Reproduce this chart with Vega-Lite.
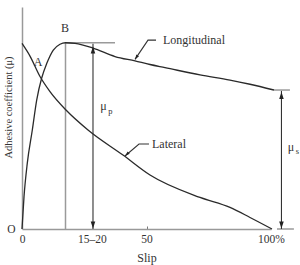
{
  "$schema": "https://vega.github.io/schema/vega-lite/v6.json",
  "width": 249,
  "height": 222,
  "autosize": {"type": "none"},
  "padding": {"left": 22, "top": 7, "right": 29, "bottom": 36},
  "config": {"view": {"stroke": null}, "font": "Liberation Serif"},
  "datasets": {
    "curves": [
      {"curve": "Longitudinal", "s": 0, "mu": 0},
      {"curve": "Longitudinal", "s": 0.8, "mu": 0.144},
      {"curve": "Longitudinal", "s": 2.13, "mu": 0.297},
      {"curve": "Longitudinal", "s": 4.14, "mu": 0.446},
      {"curve": "Longitudinal", "s": 5.9, "mu": 0.581},
      {"curve": "Longitudinal", "s": 7.91, "mu": 0.68},
      {"curve": "Longitudinal", "s": 9.92, "mu": 0.745},
      {"curve": "Longitudinal", "s": 12.57, "mu": 0.806},
      {"curve": "Longitudinal", "s": 15.26, "mu": 0.832},
      {"curve": "Longitudinal", "s": 17.47, "mu": 0.839},
      {"curve": "Longitudinal", "s": 21.29, "mu": 0.836},
      {"curve": "Longitudinal", "s": 28.51, "mu": 0.815},
      {"curve": "Longitudinal", "s": 37.35, "mu": 0.777},
      {"curve": "Longitudinal", "s": 45.38, "mu": 0.757},
      {"curve": "Longitudinal", "s": 51.41, "mu": 0.741},
      {"curve": "Longitudinal", "s": 57.43, "mu": 0.727},
      {"curve": "Longitudinal", "s": 71.49, "mu": 0.694},
      {"curve": "Longitudinal", "s": 83.53, "mu": 0.671},
      {"curve": "Longitudinal", "s": 91.57, "mu": 0.652},
      {"curve": "Longitudinal", "s": 101.2, "mu": 0.626},
      {"curve": "Lateral", "s": 0, "mu": 0.836},
      {"curve": "Lateral", "s": 3.21, "mu": 0.779},
      {"curve": "Lateral", "s": 7.23, "mu": 0.687},
      {"curve": "Lateral", "s": 11.24, "mu": 0.619},
      {"curve": "Lateral", "s": 17.67, "mu": 0.536},
      {"curve": "Lateral", "s": 26.51, "mu": 0.446},
      {"curve": "Lateral", "s": 40.56, "mu": 0.333},
      {"curve": "Lateral", "s": 51.41, "mu": 0.243},
      {"curve": "Lateral", "s": 71.49, "mu": 0.142},
      {"curve": "Lateral", "s": 83.53, "mu": 0.097},
      {"curve": "Lateral", "s": 91.57, "mu": 0.052},
      {"curve": "Lateral", "s": 100.4, "mu": 0}
    ],
    "grayLines": [
      {"seg": "peakV", "k": 0, "s": 17.47, "mu": 0},
      {"seg": "peakV", "k": 1, "s": 17.47, "mu": 0.839},
      {"seg": "peakH", "k": 0, "s": 17.47, "mu": 0.839},
      {"seg": "peakH", "k": 1, "s": 37.35, "mu": 0.839},
      {"seg": "capTop", "k": 0, "s": 101.2, "mu": 0.626},
      {"seg": "capTop", "k": 1, "s": 107.6, "mu": 0.626},
      {"seg": "capBot", "k": 0, "s": 102.4, "mu": 0},
      {"seg": "capBot", "k": 1, "s": 109.2, "mu": 0}
    ],
    "darkLines": [
      {"seg": "mup", "k": 0, "s": 28.51, "mu": 0},
      {"seg": "mup", "k": 1, "s": 28.51, "mu": 0.835},
      {"seg": "mus", "k": 0, "s": 104.2, "mu": 0},
      {"seg": "mus", "k": 1, "s": 104.2, "mu": 0.622},
      {"seg": "leadL", "k": 0, "s": 53.82, "mu": 0.851},
      {"seg": "leadL", "k": 1, "s": 50.6, "mu": 0.851},
      {"seg": "leadL", "k": 2, "s": 45.38, "mu": 0.764},
      {"seg": "leadT", "k": 0, "s": 51.0, "mu": 0.383},
      {"seg": "leadT", "k": 1, "s": 46.99, "mu": 0.383},
      {"seg": "leadT", "k": 2, "s": 41.37, "mu": 0.329}
    ],
    "heads": [
      {"dir": "up", "s": 28.51, "mu": 0.822},
      {"dir": "down", "s": 28.51, "mu": 0.002},
      {"dir": "up", "s": 104.2, "mu": 0.617},
      {"dir": "down", "s": 104.2, "mu": 0.002},
      {"dir": "leadL", "s": 45.38, "mu": 0.764},
      {"dir": "leadT", "s": 41.37, "mu": 0.329}
    ],
    "labels": [
      {"t": "B", "s": 17.27, "mu": 0.905},
      {"t": "A", "s": 6.43, "mu": 0.752},
      {"t": "Longitudinal", "s": 69.08, "mu": 0.851},
      {"t": "Lateral", "s": 59.04, "mu": 0.383},
      {"t": "μ", "s": 32.73, "mu": 0.554},
      {"t": "μ", "s": 108.03, "mu": 0.369}
    ],
    "subs": [
      {"t": "p", "s": 35.54, "mu": 0.532},
      {"t": "s", "s": 110.64, "mu": 0.351}
    ]
  },
  "encoding": {
    "x": {
      "field": "s",
      "type": "quantitative",
      "scale": {"domain": [0, 100], "nice": false, "zero": false},
      "axis": {
        "title": "Slip",
        "values": [0, 28.1, 50, 100],
        "labelExpr": "datum.value == 0 ? '0' : datum.value == 50 ? '50' : datum.value == 100 ? '100%' : '15–20'",
        "grid": false,
        "domainColor": "#999999",
        "domainWidth": 1.5,
        "tickColor": "#777777",
        "tickSize": -3,
        "tickOpacity": {"condition": {"test": "datum.value == 50", "value": 1}, "value": 0},
        "labelFontSize": 11.5,
        "labelColor": "#333333",
        "labelPadding": 7,
        "labelFlush": false,
        "labelOverlap": false,
        "titleFontSize": 12,
        "titleFontWeight": "normal",
        "titleColor": "#333333",
        "titlePadding": 8
      }
    },
    "y": {
      "field": "mu",
      "type": "quantitative",
      "scale": {"domain": [0, 1], "nice": false, "zero": false},
      "axis": {
        "title": "Adhesive coefficient (μ)",
        "values": [0],
        "labelExpr": "'O'",
        "grid": false,
        "ticks": false,
        "domainColor": "#999999",
        "domainWidth": 1.5,
        "labelFontSize": 11.5,
        "labelColor": "#333333",
        "labelPadding": 7,
        "titleFontSize": 10.5,
        "titleFontWeight": "normal",
        "titleColor": "#333333",
        "titleX": -14,
        "titleY": 100,
        "titleAngle": -90,
        "titleAlign": "center",
        "titleBaseline": "middle"
      }
    }
  },
  "layer": [
    {
      "data": {"name": "grayLines"},
      "mark": {"type": "line", "color": "#9a9a9a", "strokeWidth": 1.5},
      "encoding": {"detail": {"field": "seg"}, "order": {"field": "k"}}
    },
    {
      "data": {"name": "darkLines"},
      "mark": {"type": "line", "color": "#333333", "strokeWidth": 1.1},
      "encoding": {"detail": {"field": "seg"}, "order": {"field": "k"}}
    },
    {
      "data": {"name": "curves"},
      "mark": {"type": "line", "color": "#2a2a2a", "strokeWidth": 1.3, "interpolate": "monotone"},
      "encoding": {"detail": {"field": "curve"}}
    },
    {
      "data": {"name": "heads"},
      "mark": {"type": "point", "filled": true, "color": "#222222", "opacity": 1, "size": 49, "strokeWidth": 0},
      "encoding": {
        "shape": {
          "field": "dir",
          "type": "nominal",
          "legend": null,
          "scale": {
            "domain": ["up", "down", "leadL", "leadT"],
            "range": [
              "M0,0L0.65,2L-0.65,2Z",
              "M0,0L0.65,-2L-0.65,-2Z",
              "M0,0L1.141,-0.93L0.385,-1.42Z",
              "M0,0L1.339,-0.608L0.735,-1.274Z"
            ]
          }
        }
      }
    },
    {
      "data": {"name": "labels"},
      "mark": {"type": "text", "fontSize": 12, "color": "#333333", "align": "center", "baseline": "middle", "font": "Liberation Serif"},
      "encoding": {"text": {"field": "t"}}
    },
    {
      "data": {"name": "subs"},
      "mark": {"type": "text", "fontSize": 8.5, "color": "#333333", "align": "center", "baseline": "middle", "font": "Liberation Serif"},
      "encoding": {"text": {"field": "t"}}
    }
  ]
}
